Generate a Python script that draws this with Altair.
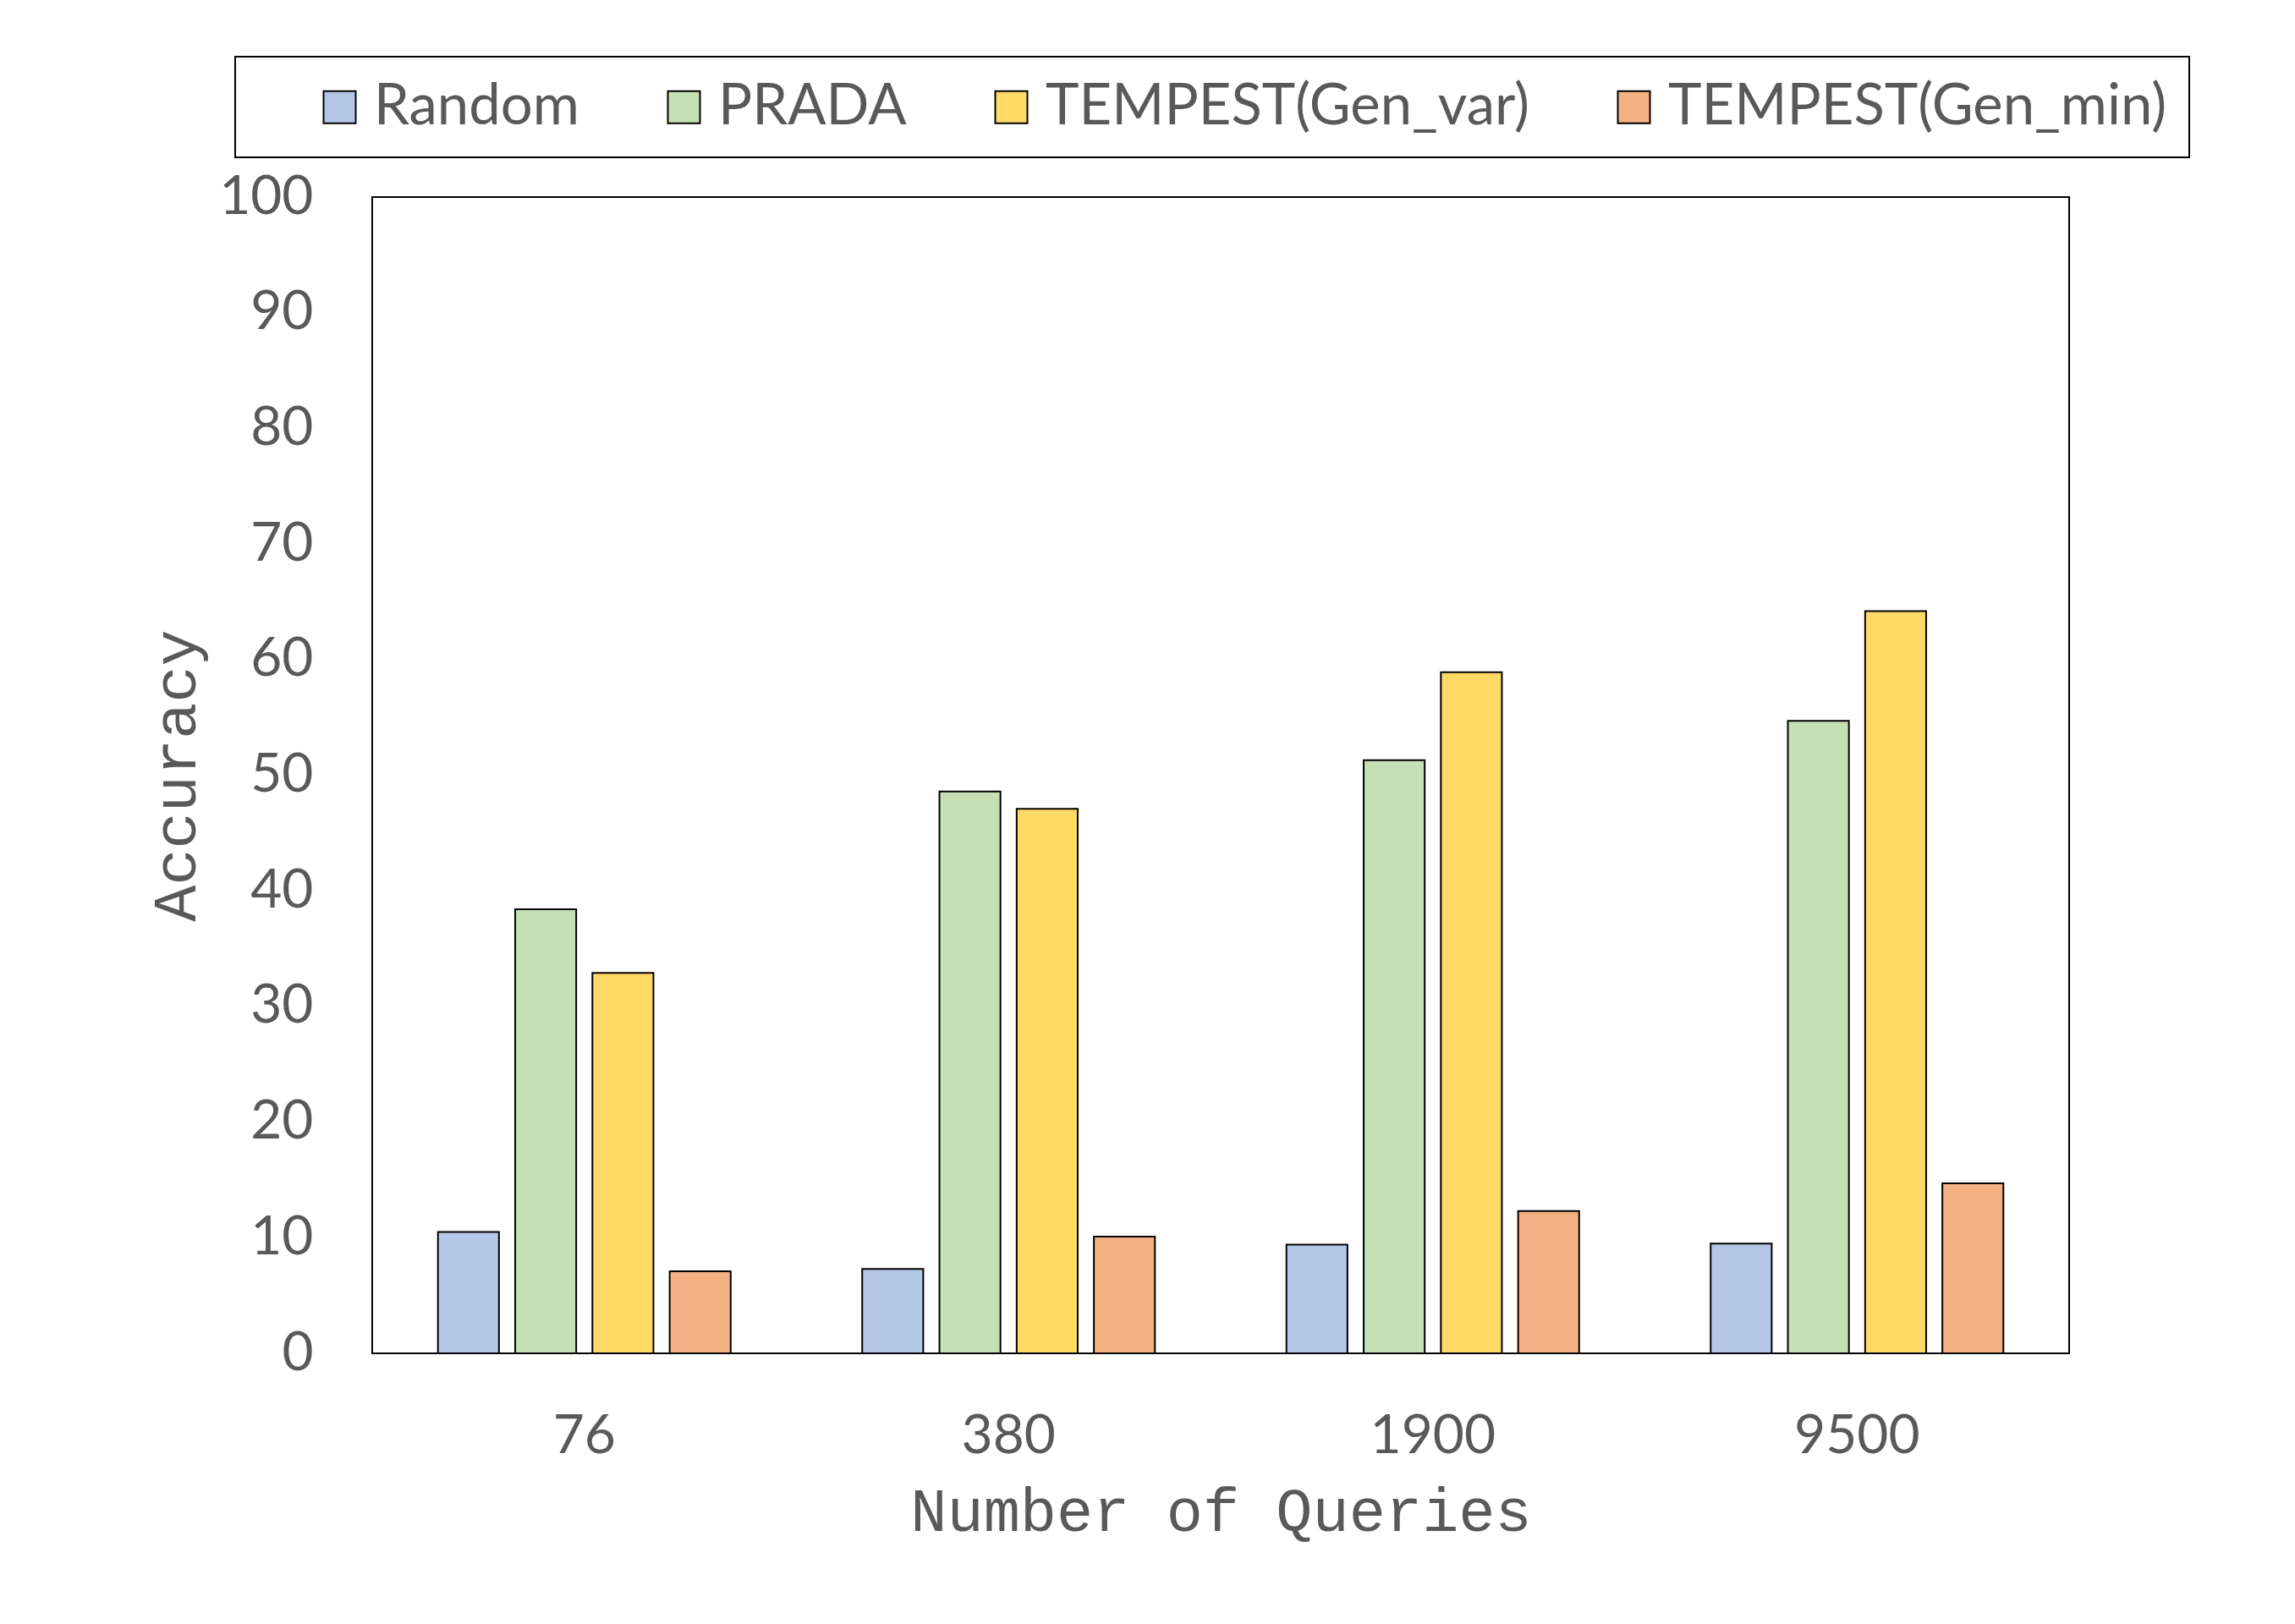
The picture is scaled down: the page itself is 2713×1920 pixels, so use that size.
import altair as alt
import pandas as pd

queries = ["76", "380", "1900", "9500"]
methods = ["Random", "PRADA", "TEMPEST(Gen_var)", "TEMPEST(Gen_min)"]
random_acc = [10.5, 7.3, 9.4, 9.5]
prada_acc = [38.4, 48.6, 51.3, 54.7]
gen_var_acc = [32.9, 47.1, 58.9, 64.2]
gen_min_acc = [7.1, 10.1, 12.3, 14.7]
colors = ["#B4C7E7", "#C5E0B4", "#FFD966", "#F4B183"]

rows = []
for m, vals in zip(methods, [random_acc, prada_acc, gen_var_acc, gen_min_acc]):
    for q, v in zip(queries, vals):
        rows.append({"Queries": q, "Method": m, "Accuracy": v})
df = pd.DataFrame(rows)

GRAY = "#595959"

chart = alt.Chart(df).mark_bar(stroke="black", strokeWidth=2).encode(
    x=alt.X("Queries:N", sort=queries,
            scale=alt.Scale(paddingInner=0.31, paddingOuter=0.155),
            axis=alt.Axis(title="Number of Queries", labelAngle=0, ticks=False, domain=False,
                          labelFont="Lato", labelFontSize=64, labelColor=GRAY, labelPadding=66,
                          titleFont="Liberation Mono", titleFontSize=72, titleFontWeight="normal",
                          titleColor=GRAY, titlePadding=22)),
    xOffset=alt.XOffset("Method:N", sort=methods,
                        scale=alt.Scale(paddingInner=0.21, paddingOuter=0)),
    y=alt.Y("Accuracy:Q",
            scale=alt.Scale(domain=[0, 100], nice=False),
            axis=alt.Axis(title="Accuracy", values=list(range(0, 101, 10)), ticks=False, domain=False,
                          grid=False, labelFont="Lato", labelFontSize=64, labelColor=GRAY,
                          labelPadding=70, titleFont="Liberation Mono", titleFontSize=72,
                          titleFontWeight="normal", titleColor=GRAY, titlePadding=13)),
    color=alt.Color("Method:N", sort=methods,
                    scale=alt.Scale(domain=methods, range=colors),
                    legend=alt.Legend(title=" ", titleOrient="left", titlePadding=64,
                                      titleFontSize=20,
                                      orient="none", direction="horizontal",
                                      legendX=-162, legendY=-166,
                                      symbolType="square", symbolSize=1444,
                                      symbolStrokeColor="black", symbolStrokeWidth=2,
                                      symbolOpacity=1, labelLimit=2000,
                                      labelFont="Lato", labelFontSize=67, labelColor=GRAY,
                                      labelOffset=7, columnPadding=90,
                                      padding=26, strokeColor="black",
                                      fillColor="white")),
).properties(
    width=2006,
    height=1367,
    padding={"left": 164, "top": 58, "right": 20, "bottom": 20},
).configure_view(
    stroke="black", strokeWidth=2
).configure_legend(
    strokeWidth=2
)

chart.save("out.html", embed_options={"renderer": "svg", "actions": False})
